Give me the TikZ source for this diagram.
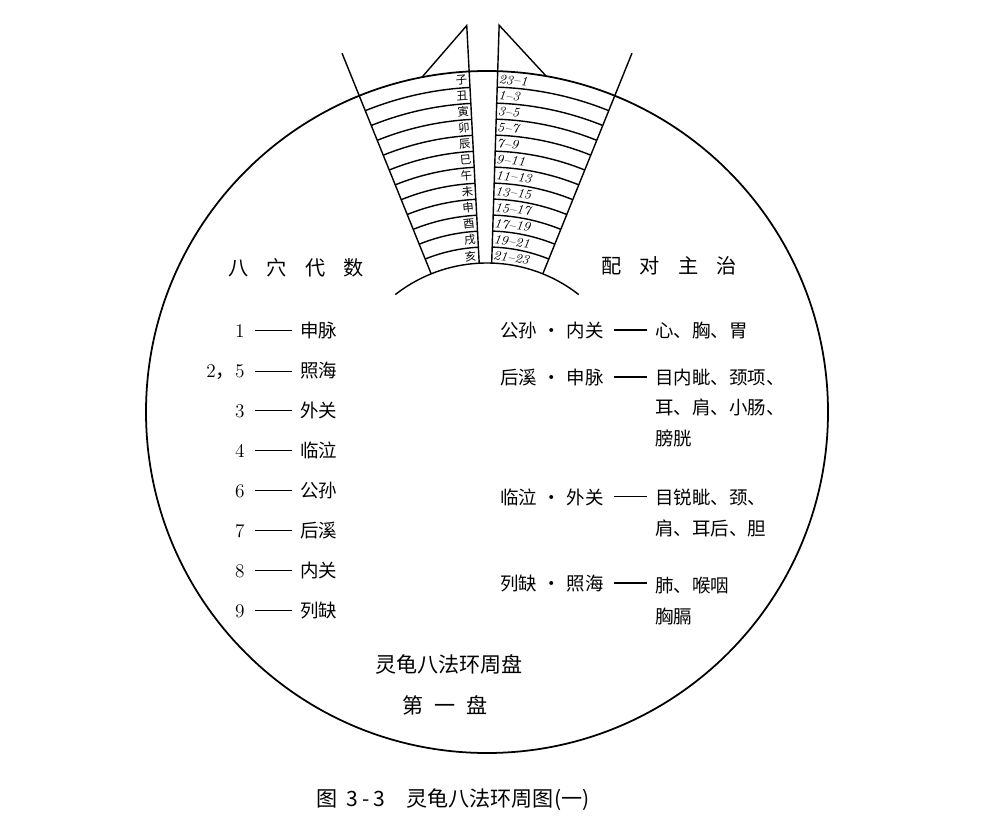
\documentclass[tikz,border=0pt]{standalone}
\usepackage{fontspec}
\usepackage{tikz}
\usetikzlibrary{calc}
\newfontfamily\cjk{Noto Sans CJK SC}

\begin{document}
\begin{tikzpicture}[x=0.2mm,y=-0.2mm,
  rim/.style={line width=1pt},
  band/.style={line width=0.8pt},
  heading/.style={font=\cjk\fontsize{11.5}{14}\selectfont,inner sep=0pt},
  entry/.style={font=\cjk\fontsize{10.5}{17.3}\selectfont,inner sep=0pt,align=left},
  num/.style={font=\fontsize{11}{13}\selectfont,inner sep=0pt},
  branch/.style={font=\cjk\fontsize{6.5}{7}\selectfont,inner sep=1.2pt},
  hour/.style={font=\itshape\fontsize{7.5}{8}\selectfont,inner sep=0.6pt},
  figtitle/.style={font=\cjk\fontsize{12}{14}\selectfont,inner sep=0pt},
  dashline/.style={line width=0.6pt,shorten <=2mm,shorten >=1.6mm}]
  \path[use as bounding box] (0,0) rectangle (1000,831);

  \draw[rim] (487,412) circle[radius=341];
  \begin{scope}[shift={(487,412)},yscale=-1]
    \draw[band] (52:149) arc[start angle=52,end angle=128,radius=149];
    \foreach \k in {1,...,11}{
      \pgfmathsetmacro\r{149+16*\k}
      \draw[band] (68:\r) arc[start angle=68,end angle=88.2,radius=\r];
      \draw[band] (93:\r) arc[start angle=93,end angle=112,radius=\r];
    }
    \draw[band] (68:149) -- (68:387);
    \draw[band] (112:149) -- (112:387);
    \draw[band] (88.2:149) -- (88.2:387) -- (80:341);
    \draw[band] (93:149) -- (93:387) -- (101:341);
    \foreach \lab [count=\i from 0] in {子,丑,寅,卯,辰,巳,午,未,申,酉,戌,亥}{
      \pgfmathsetmacro\r{333-16*\i}
      \node[branch,anchor=east,rotate={3+500/\r}] (b\i) at (93:\r) {\lab};
    }
    \foreach \lab [count=\i from 0] in {23--1,1--3,3--5,5--7,7--9,9--11,11--13,13--15,15--17,17--19,19--21,21--23}{
      \pgfmathsetmacro\r{333-16*\i}
      \node[hour,anchor=west,rotate={-1.8-900/\r}] (h\i) at (88.2:\r) {\lab};
    }
  \end{scope}

  \node[heading] (ba) at (296,268) {八\hspace{0.9em}穴\hspace{0.9em}代\hspace{0.9em}数};
  \node[heading] (pd) at (669,266) {配\hspace{0.9em}对\hspace{0.9em}主\hspace{0.9em}治};

  \foreach \n/\p [count=\i from 0] in {1/申脉,{2{\cjk ，}5}/照海,3/外关,4/临泣,6/公孙,7/后溪,8/内关,9/列缺}{
    \node[num,anchor=base east] (n\i) at (245,337+40*\i) {\n};
    \node[entry,anchor=base west] (p\i) at (300,337+40*\i) {\p};
    \draw[dashline] (n\i.east) -- (n\i.east -| p\i.west);
  }

  % multi-line nodes sit on the baseline of their last line
  \node[entry,anchor=base west] (q0) at (500,337) {公孙\hspace{0.3em}·\hspace{0.3em}内关};
  \node[entry,anchor=base west] (e0) at (655,337) {心、胸、胃};
  \node[entry,anchor=base west] (q1) at (500,384) {后溪\hspace{0.3em}·\hspace{0.3em}申脉};
  \node[entry,anchor=base west] (e1) at (655,445) {目内眦、颈项、\\耳、肩、小肠、\\膀胱};
  \node[entry,anchor=base west] (q2) at (500,504) {临泣\hspace{0.3em}·\hspace{0.3em}外关};
  \node[entry,anchor=base west] (e2) at (655,535) {目锐眦、颈、\\肩、耳后、胆};
  \node[entry,anchor=base west] (q3) at (500,590) {列缺\hspace{0.3em}·\hspace{0.3em}照海};
  \node[entry,anchor=base west] (e3) at (655,623) {肺、喉咽\\胸膈};
  \foreach \i in {0,...,3}{
    \draw[dashline] (q\i.east) -- (q\i.east -| e\i.west);
  }

  \node[figtitle] (ti) at (449,664) {灵龟八法环周盘};
  \node[figtitle] (di) at (445,705) {第\hspace{0.5em}一\hspace{0.5em}盘};
  \node[figtitle] (cap) at (453,800) {图\hspace{0.4em}3\hspace{0.2em}-\hspace{0.2em}3\hspace{1em}灵龟八法环周图(一)};
\end{tikzpicture}
\end{document}
